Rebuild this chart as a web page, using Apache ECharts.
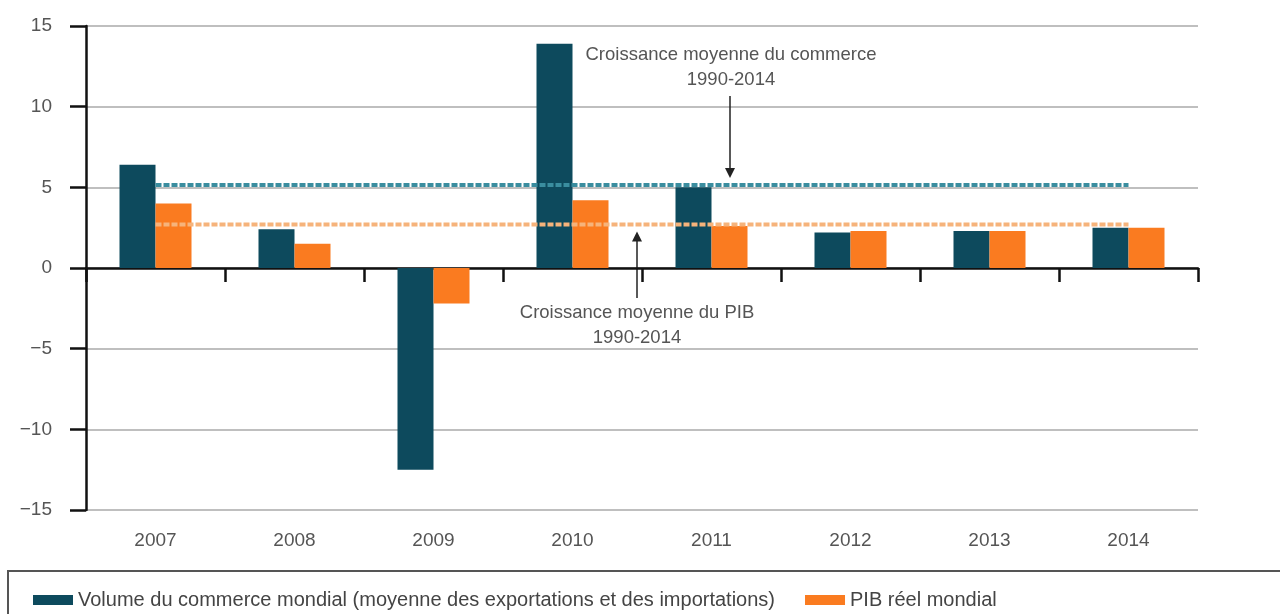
<!DOCTYPE html>
<html>
<head>
<meta charset="utf-8">
<script src="https://cdn.jsdelivr.net/npm/echarts@6/dist/echarts.min.js"></script>
<style>
	html,body{margin:0;padding:0;background:#fff;}
	#main{width:1280px;height:614px;}
</style>
</head>
<body>
<div id="main"></div>
<script>
//年份
var years=["2007","2008","2009","2010","2011","2012","2013","2014"];
//贸易量
var tradeVolume=[6.4,2.4,-12.5,13.9,5.0,2.2,2.3,2.5];
//实际GDP
var realGdp=[4.0,1.5,-2.2,4.2,2.6,2.3,2.3,2.5];
//1990-2014平均
var avgTrade=[5.15,5.15,5.15,5.15,5.15,5.15,5.15,5.15];
var avgGdp=[2.7,2.7,2.7,2.7,2.7,2.7,2.7,2.7];
var yTicks=[-15,-10,-5,0,5,10,15];
var legendNames=["Volume du commerce mondial (moyenne des exportations et des importations)","PIB réel mondial"];

var font="'Liberation Sans', Arial, sans-serif";
var darkColor="#0d4a5d",orangeColor="#fa7b20";

var myChart=echarts.init(document.getElementById("main"));
var option={
	animation:false,
	textStyle:{fontFamily:font},
	grid:{left:86,right:82,top:26,bottom:104,containLabel:false},
	legend:{
		left:28,
		top:585,
		itemWidth:40,
		itemHeight:10,
		itemGap:30,
		icon:"rect",
		textStyle:{color:"#444",fontSize:20,fontFamily:font},
		data:legendNames
	},
	xAxis:[
		{
			type:"category",
			position:"bottom",
			data:years,
			axisLine:{onZero:true,lineStyle:{color:"#111",width:2.5}},
			axisTick:{show:true,length:14,lineStyle:{color:"#111",width:2.5}},
			axisLabel:{show:false},
			splitLine:{show:false}
		},
		{
			type:"category",
			position:"bottom",
			data:years,
			axisLine:{show:false,onZero:false},
			axisTick:{show:false},
			axisLabel:{show:true,color:"#555",fontSize:19,margin:21,fontFamily:font},
			splitLine:{show:false}
		}
	],
	yAxis:{
		type:"value",
		min:yTicks[0],
		max:yTicks[yTicks.length-1],
		interval:5,
		axisLine:{show:true,lineStyle:{color:"#111",width:2.5}},
		axisTick:{show:true,length:16,lineStyle:{color:"#111",width:2.5}},
		axisLabel:{
			color:"#555",fontSize:19,margin:34,fontFamily:font,
			formatter:function(v){return v<0?"\u2212"+Math.abs(v):""+v;}
		},
		splitLine:{show:true,lineStyle:{color:"#aaa",width:1.5}}
	},
	series:[
		{
			name:legendNames[0],
			type:"bar",
			barWidth:36,
			barGap:"0%",
			itemStyle:{color:darkColor},
			data:tradeVolume
		},
		{
			name:legendNames[1],
			type:"bar",
			barWidth:36,
			barGap:"0%",
			itemStyle:{color:orangeColor},
			data:realGdp
		},
		{
			name:"avgTrade",
			type:"line",
			symbol:"none",
			z:5,
			lineStyle:{color:"#3a8d9f",width:4,type:[6,2]},
			data:avgTrade
		},
		{
			name:"avgGdp",
			type:"line",
			symbol:"none",
			z:5,
			lineStyle:{color:"#f6b37b",width:4,type:[6,2]},
			data:avgGdp
		}
	]
};
myChart.setOption(option);

//注释和箭头
var yTrade=myChart.convertToPixel({yAxisIndex:0},avgTrade[0]);
var yGdp=myChart.convertToPixel({yAxisIndex:0},avgGdp[0]);
var arrowStyle={stroke:"#222",lineWidth:1.5};
myChart.setOption({
	graphic:[
		{
			type:"text",
			style:{text:"Croissance moyenne du commerce\n1990-2014",x:731,y:42,align:"center",fill:"#555",font:"18.5px "+font,lineHeight:25}
		},
		{type:"line",shape:{x1:730,y1:96,x2:730,y2:yTrade-12},style:arrowStyle},
		{type:"polygon",shape:{points:[[725,yTrade-17],[735,yTrade-17],[730,yTrade-7]]},style:{fill:"#222"}},
		{
			type:"text",
			style:{text:"Croissance moyenne du PIB\n1990-2014",x:637,y:300,align:"center",fill:"#555",font:"18.5px "+font,lineHeight:25}
		},
		{type:"line",shape:{x1:637,y1:298,x2:637,y2:yGdp+12},style:arrowStyle},
		{type:"polygon",shape:{points:[[632,yGdp+17],[642,yGdp+17],[637,yGdp+7]]},style:{fill:"#222"}},
		{type:"rect",shape:{x:8,y:571,width:1290,height:60},style:{fill:"none",stroke:"#555",lineWidth:2},z:-1}
	]
});
</script>
</body>
</html>
